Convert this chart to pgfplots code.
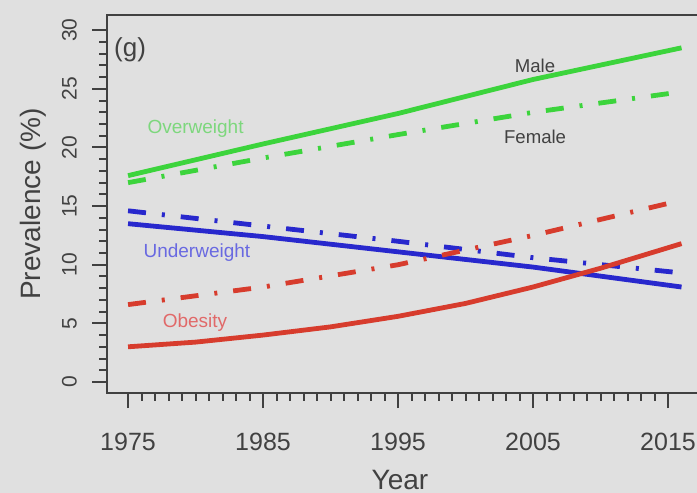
\documentclass[border=0pt]{standalone}
\usepackage{pgfplots}
\pgfplotsset{compat=1.18}
\usepackage{fontspec}
\setmainfont{Liberation Sans}
\definecolor{bg}{RGB}{224,224,224}
\definecolor{lgreen}{RGB}{60,212,60}
\definecolor{lblue}{RGB}{40,40,205}
\definecolor{lred}{RGB}{215,60,45}
\definecolor{tgreen}{RGB}{125,215,125}
\definecolor{tblue}{RGB}{105,105,225}
\definecolor{tred}{RGB}{225,105,105}
\definecolor{axgray}{RGB}{65,65,65}
\begin{document}
\begin{tikzpicture}
\fill[bg] (0,0) rectangle (348.5pt,246.5pt);
\begin{axis}[
  at={(53.5pt,50pt)}, anchor=south west,
  scale only axis, width=306.5pt, height=189pt,
  xmin=1973.44, xmax=2018.85, ymin=-0.94, ymax=31.3,
  axis background/.style={fill=bg},
  axis line style={line width=1.3pt, axgray},
  every tick/.style={axgray, line width=1pt},
  tick align=outside, tick pos=left,
  major tick length=7.5pt, minor tick length=3.8pt,
  xtick={1975,1985,1995,2005,2015}, minor x tick num=9,
  ytick={0,5,10,15,20,25,30}, minor y tick num=4,
  /pgf/number format/assume math mode=true,
  /pgf/number format/1000 sep={},
  xticklabel shift=9pt, yticklabel shift=4pt,
  xticklabel style={font=\fontsize{12.5}{14}\selectfont, text=axgray},
  yticklabel style={font=\fontsize{10.5}{12}\selectfont, text=axgray, rotate=90, anchor=south},
  xlabel={Year}, ylabel={Prevalence (\%)},
  label style={font=\fontsize{14}{16}\selectfont, text=axgray},
  xlabel style={at={(axis description cs:0.478,-0.23)}, anchor=center},
  ylabel style={at={(axis description cs:-0.1207,0.5)}, anchor=center},
  clip=false,
]
% Overweight male
\addplot[lgreen, line width=2.4pt] coordinates {(1975,17.6) (1985,20.3) (1995,22.9) (2005,25.8) (2016,28.5)};
% Overweight female
\addplot[lgreen, line width=2.4pt, dash pattern=on 9pt off 8pt on 1.5pt off 8pt] coordinates {(1975,17.0) (1985,19.1) (1995,21.1) (2005,23.0) (2016,24.75)};
% Underweight male
\addplot[lblue, line width=2.4pt] coordinates {(1975,13.5) (1985,12.4) (1995,11.1) (2005,9.8) (2016,8.1)};
% Underweight female
\addplot[lblue, line width=2.4pt, dash pattern=on 9pt off 8pt on 1.5pt off 8pt] coordinates {(1975,14.6) (1985,13.3) (1995,12.0) (2005,10.6) (2016,9.3)};
% Obesity male
\addplot[lred, line width=2.4pt] coordinates {(1975,3.0) (1980,3.4) (1985,4.0) (1990,4.7) (1995,5.6) (2000,6.7) (2005,8.1) (2010,9.7) (2016,11.8)};
% Obesity female
\addplot[lred, line width=2.4pt, dash pattern=on 9pt off 8pt on 1.5pt off 8pt] coordinates {(1975,6.6) (1985,8.1) (1995,10.0) (2005,12.5) (2016,15.5)};
\node[font=\fontsize{13}{15}\selectfont, text=axgray] at (axis cs:1975.15,28.3) {(g)};
\node[font=\fontsize{9.3}{11}\selectfont, text=axgray] at (axis cs:2005.15,27.0) {Male};
\node[font=\fontsize{9.3}{11}\selectfont, text=axgray] at (axis cs:2005.15,20.9) {Female};
\node[font=\fontsize{9.5}{11}\selectfont, text=tgreen] at (axis cs:1980.0,21.65) {Overweight};
\node[font=\fontsize{9.5}{11}\selectfont, text=tblue] at (axis cs:1980.1,11.0) {Underweight};
\node[font=\fontsize{9.5}{11}\selectfont, text=tred] at (axis cs:1979.96,5.1) {Obesity};
\end{axis}
\pgfresetboundingbox
\useasboundingbox (0,0) rectangle (348.5pt,246.5pt);
\end{tikzpicture}
\end{document}
